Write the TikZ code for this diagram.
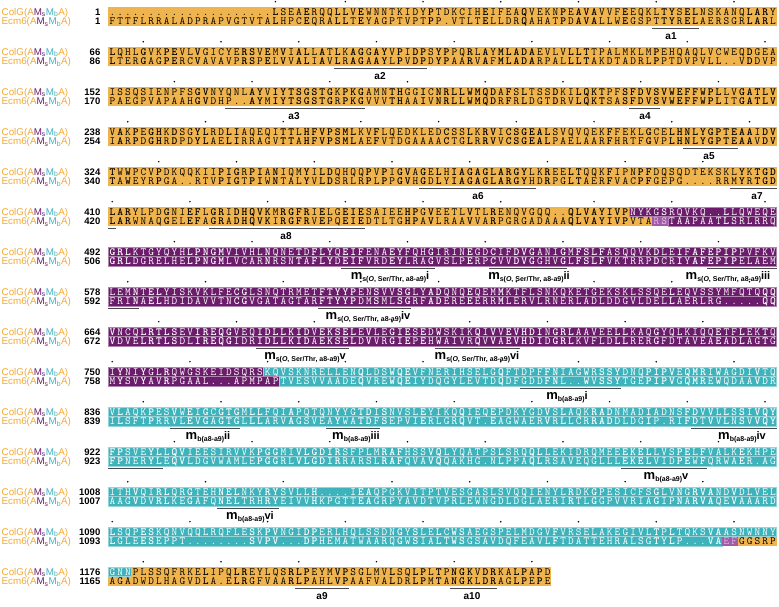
\documentclass[tikz,border=0pt]{standalone}
\usepackage{fontspec}
\newfontfamily\labfont{Liberation Sans}
\definecolor{cO}{HTML}{F0B44E}
\definecolor{cP}{HTML}{6B1D6B}
\definecolor{cC}{HTML}{3FB3BC}
\definecolor{cM}{HTML}{A05CA6}
\definecolor{lblO}{HTML}{F0A935}
\definecolor{tO}{HTML}{000000}
\definecolor{tP}{HTML}{FFFFFF}
\definecolor{tC}{HTML}{FFFFFF}
\definecolor{tM}{HTML}{E2B4E4}
\definecolor{ulc}{HTML}{4A4A4A}
\tikzset{
  bgO/.style={fill=cO},
  bgP/.style={fill=cP, draw=cP!55!white, line width=0.5pt},
  bgC/.style={fill=cC, draw=cC!55!white, line width=0.5pt},
  bgM/.style={fill=cM},
  seqline/.style={anchor=base west, inner sep=0pt, font=\ttfamily\fontsize{11}{11}\selectfont},
  namelab/.style={anchor=base west, inner sep=0pt, font=\labfont\fontsize{9.8}{9.8}\selectfont},
  numlab/.style={anchor=base east, inner sep=0pt, font=\labfont\bfseries\fontsize{9.5}{9.5}\selectfont},
  uline/.style={draw=ulc, line width=1.1pt},
  alab/.style={anchor=base, inner sep=0pt, font=\labfont\bfseries\fontsize{10}{10}\selectfont},
  mlab/.style={anchor=base, inner sep=0pt, font=\labfont\bfseries\fontsize{13}{13}\selectfont},
  resdot/.style={fill=black},
}
\newcommand\ColGname{\textcolor{lblO}{ColG(A}\textcolor{cP}{M\textsubscript{s}}\textcolor{cC}{M\textsubscript{b}}\textcolor{lblO}{A)}}
\newcommand\EcmName{\textcolor{lblO}{Ecm6(A}\textcolor{cP}{M\textsubscript{s}}\textcolor{cC}{M\textsubscript{b}}\textcolor{lblO}{A)}}
\newcommand\SqRect[5]{\path[bg#1] (#2,#3) rectangle (#4,#5);}
\newcommand\SqDot[2]{\fill[resdot] (#1,#2) circle[radius=0.85pt];}
\newcommand\SqChar[3]{\hbox to 7.772pt{\hss\color{t#1}\ifnum#2=1 \bfseries\fi#3\hss}}
\newcommand\SqLine[3]{\node[seqline] (#1) at (108.3,#2) {#3};}
\newcommand\SqNames[5]{%
  \node[namelab] (nameA#1) at (1.5,#2+3.5) {\ColGname};
  \node[namelab] (nameB#1) at (1.5,#3+3.5) {\EcmName};
  \node[numlab] (numA#1) at (100.5,#2+3.4) {#4};
  \node[numlab] (numB#1) at (100.5,#3+3.4) {#5};}
\newcommand\ULine[3]{\draw[uline] ({108.3+(#2-1)*7.772},{28.9+40*#1}) -- ({108.3+#3*7.772},{28.9+40*#1});}
\newcommand\ALab[4]{\node[alab] (#1) at (#3,{36+40*#2+3.6}) {#4};}
\newcommand\MsText[1]{m\raisebox{-2.8pt}{\fontsize{7}{7}\selectfont s(\textit{O}, Ser/Thr, a8-a9)}{\fontsize{11}{11}\selectfont #1}}
\newcommand\MbText[1]{m\raisebox{-2.8pt}{\fontsize{7}{7}\selectfont b(a8-a9)}{\fontsize{11}{11}\selectfont #1}}
\newcommand\MLab[4]{\node[mlab] (#1) at (#3,{36+40*#2+3}) {#4};}

\ExplSyntaxOn
\tl_new:N \l_sq_code_tl
\tl_new:N \l_sq_codeA_tl
\tl_new:N \l_sq_codeB_tl
\tl_new:N \l_sq_A_tl
\tl_new:N \l_sq_B_tl
\tl_new:N \l_sq_a_tl
\tl_new:N \l_sq_b_tl
\tl_new:N \l_sq_boxA_tl
\tl_new:N \l_sq_boxB_tl
\tl_const:Nn \c_sq_dot_tl {.}
\int_new:N \l_sq_pos_int
\int_new:N \l_sq_res_int
\int_new:N \l_sq_bold_int
\fp_new:N \l_sq_yA_fp
\fp_new:N \l_sq_yB_fp
\cs_new_protected:Npn \sq_runs:nn #1 #2
  {
    \tl_clear:N \l_sq_code_tl
    \int_zero:N \l_sq_pos_int
    \clist_map_inline:nn {#2} { \sq_run:nw {#1} ##1 \q_stop }
  }
\cs_new_protected:Npn \sq_run:nw #1 #2 / #3 \q_stop
  {
    \use:e
      {
        \exp_not:N \SqRect {#3}
          { \fp_eval:n { 108.3 + \l_sq_pos_int * 7.772 } }
          { \fp_eval:n { #1 - 4.85 } }
          { \fp_eval:n { 108.3 + ( \l_sq_pos_int + #2 ) * 7.772 } }
          { \fp_eval:n { #1 + 4.85 } }
      }
    \tl_put_right:Nx \l_sq_code_tl { \prg_replicate:nn {#2} {#3} }
    \int_add:Nn \l_sq_pos_int {#2}
  }
\NewDocumentCommand \SeqBlock { m m m m m m m }
  {
    \fp_set:Nn \l_sq_yA_fp { 11.7 + 40 * #1 }
    \fp_set:Nn \l_sq_yB_fp { 21.4 + 40 * #1 }
    \sq_runs:nn { \l_sq_yA_fp } {#4}
    \tl_set_eq:NN \l_sq_codeA_tl \l_sq_code_tl
    \sq_runs:nn { \l_sq_yB_fp } {#7}
    \tl_set_eq:NN \l_sq_codeB_tl \l_sq_code_tl
    \tl_set:Nn \l_sq_A_tl {#3}
    \tl_set:Nn \l_sq_B_tl {#6}
    \tl_clear:N \l_sq_boxA_tl
    \tl_clear:N \l_sq_boxB_tl
    \int_set:Nn \l_sq_res_int { #2 - 1 }
    \int_step_inline:nn { \tl_count:N \l_sq_A_tl }
      {
        \tl_set:Nx \l_sq_a_tl { \tl_item:Nn \l_sq_A_tl {##1} }
        \tl_set:Nx \l_sq_b_tl { \tl_item:Nn \l_sq_B_tl {##1} }
        \int_zero:N \l_sq_bold_int
        \tl_if_eq:NNT \l_sq_a_tl \l_sq_b_tl
          { \tl_if_eq:NNF \l_sq_a_tl \c_sq_dot_tl { \int_set:Nn \l_sq_bold_int {1} } }
        \tl_if_eq:NNF \l_sq_a_tl \c_sq_dot_tl
          {
            \int_incr:N \l_sq_res_int
            \int_compare:nNnT { \int_mod:nn { \l_sq_res_int } {10} } = {0}
              {
                \use:e { \exp_not:N \SqDot { \fp_eval:n { 108.3 + (##1 - 0.5) * 7.772 } } { \fp_eval:n { \l_sq_yA_fp - 10 } } }
              }
          }
        \tl_put_right:Nx \l_sq_boxA_tl
          { \exp_not:N \SqChar { \tl_item:Nn \l_sq_codeA_tl {##1} } { \int_use:N \l_sq_bold_int } { \l_sq_a_tl } }
        \tl_put_right:Nx \l_sq_boxB_tl
          { \exp_not:N \SqChar { \tl_item:Nn \l_sq_codeB_tl {##1} } { \int_use:N \l_sq_bold_int } { \l_sq_b_tl } }
      }
    \use:e { \exp_not:N \SqLine {colg#1} { \fp_eval:n { \l_sq_yA_fp + 3.35 } } { \exp_not:N \l_sq_boxA_tl } }
    \use:e { \exp_not:N \SqLine {ecm#1} { \fp_eval:n { \l_sq_yB_fp + 3.35 } } { \exp_not:N \l_sq_boxB_tl } }
    \use:e { \exp_not:N \SqNames {#1} { \fp_eval:n { \l_sq_yA_fp } } { \fp_eval:n { \l_sq_yB_fp } } {#2} {#5} }
  }
\ExplSyntaxOff

\begin{document}
\begin{tikzpicture}[x=1pt,y=-1pt]
\fill[white] (0,0) rectangle (779,607);
\useasboundingbox (0,0) rectangle (779,607);

\SeqBlock{0}{1}{.....................LSEAERQQLLVEWNNTKIDYPTDKCIHEIFEAQVEKNPEAVAVVFEEQKLTYSELNSKANQLARY}{86/O}
  {1}{FTTFLRRALADPRAPVGTVTALHPCEQRALLTEYAGPTVPTPP.VTLTELLDRQAHATPDAVALLWEGSPTTYRELAERSGRLARL}{86/O}
\SqDot{275.4}{1.7}
\SeqBlock{1}{66}{LQHLGVKPEVLVGICYERSVEMVIALLATLKAGGAYVPIDPSYPPQRLAYMLADAEVLVLLTTPALMKLMPEHQAQLVCWEQDGEA}{86/O}
  {86}{LTERGAGPERCVAVAVPRSPELVVALIAVLRAGAAYLPVDPDYPAARVAFMLADARPALLLTAKDTADRLPPTDVPVLL..VDDVP}{86/O}
\SeqBlock{2}{152}{ISSQSIENPFSGVNYQNLAYVIYTSGSTGKPKGAMNTHGGICNRLLWMQDAFSLTSSDKILQKTPFSFDVSVWEFFWPLLVGATLV}{86/O}
  {170}{PAEGPVAPAAHGVDHP..AYMIYTSGSTGRPKGVVVTHAAIVNRLLWMQDRFRLDGTDRVLQKTSASFDVSVWEFFWPLITGATLV}{86/O}
\SeqBlock{3}{238}{VAKPEGHKDSGYLRDLIAQEQITTLHFVPSMLKVFLQEDKLEDCSSLKRVICSGEALSVQVQEKFFEKLGCELHNLYGPTEAAIDV}{86/O}
  {254}{IARPDGHRDPDYLAELIRRAGVTTAHFVPSMLAEFVTDGAAAACTGLRRVVCSGEALPAELAARFHRTFGVPLHNLYGPTEAAVDV}{86/O}
\SeqBlock{4}{324}{TWWPCVPDKQQKIIPIGRPIANIQMYILDQHQQPVPIGVAGELHIAGAGLARGYLKREELTQQKFIPNPFDQSQDTEKSKLYKTGD}{86/O}
  {340}{TAWEYRPGA..RTVPIGTPIWNTALYVLDSRLRPLPPGVHGDLYIAGAGLARGYHDRPGLTAERFVACPFGEPG....RRMYRTGD}{86/O}
\SeqBlock{5}{410}{LARYLPDGNIEFLGRIDHQVKMRGFRIELGEIESAIEEHPGVEETLVTLRENQVGQQ..QLVAYIVPNYKGSRQVKQ..LLQWEQE}{67/O,19/P}
  {420}{LARWNAQGELEFAGRADHQVKIRGFRVEPQEIEDTLTGHPAVLRAAVVARPGRGADAAAQLVAYIVPVTARSTAAPAATLSRLRRQ}{70/O,2/M,14/P}
\SeqBlock{6}{492}{GRLKTGYQYHLPNGMVIVHLNQNETDFLYQEIFENAEYFQHGIRINEGDCIFDVGANIGMFSLFASQQVKDLEIFAFEPIPPVFKV}{86/P}
  {506}{GRLDGRELHELPNGMLVCARNRSNTAFLYDEIFVRDEYLRAGVSLPERPCVVDVGGHVGLFSLFVKTRRPDCRIYAFEPIPELAEM}{86/P}
\SeqBlock{7}{578}{LEMNTELYISKVKLFECGLSNQTRMETFTYYPENSVVSGLYADQNQEQEMMKTFLSNKQKETGEKSKLSSQELEQVSSYMFQTQQQ}{86/P}
  {592}{FRINAELHDIDAVVTNCGVGATAGTARFTYYPDMSMLSGRFADEREEERRMLERVLRNERLADLDDGVLDELLAERLRG.....QQ}{86/P}
\SeqBlock{8}{664}{VNCQLRTLSEVIREQGVEQIDLLKIDVEKSELEVLEGIESEDWSKIKQIVVEVHDINGRLAAVEELLKAQGYQLKIQQETFLEKTQ}{86/P}
  {672}{VDVELRTLSDLIREQGIDRIDLLKIDAEKSELDVVRGIEPEHWAIVRQVVAEVHDIDGRLKVFLDLLRERGFDTAVEAEADLAGTG}{86/P}
\SeqBlock{9}{750}{IYNIYGLRQWGSKEIDSQRSKQVSKNRELLENQLDSWQEVFNERIHSELGQFTDPFFNIAGWRSSYDNQPIPVEQMRIWAGDIVTQ}{20/P,66/C}
  {758}{MYSVYAVRPGAAL...APMPAPTVESVVAADEQVREWQEIYDQGYLEVTDQDFGDDFNL..WVSSYTGEPIPVGQMREWQDAAVDR}{22/P,64/C}
\SeqBlock{10}{836}{VLAQKPESVWEIGCGTGMLLFQIAPQTQNYYGTDISNVSLEYIKQQIEQEPDKYGDVSLAQKRADNMADIADNSFDVVLLSSIVQY}{86/C}
  {839}{ILSFTPRRVLEVGAGTGLLLARVAGSVEAYWATDFSEPVIERLGRQVT.EAGWAERVRLLCRRADDLDGIP.RIFDTVVLNSVVQY}{86/C}
\SeqBlock{11}{922}{FPSVEYLLQVIEESIRVVKPGGMIVLGDIRSFPLMRAFHSSVQLYQATPSLSRQQLLEKIDRQMEEEKELLVSPELFVALKEKHPE}{86/C}
  {923}{FPNERYLEQVLDGVWAMLEPGGRLVLGDIRRARSLRAFQVAVQQAKHG.NLPPAQLRSAVEQGLLLEKELVIDPEWFQRWAER.AG}{86/C}
\SeqBlock{12}{1008}{ITHVQIRLQRGTEHNELNKYRYSVLLH....IEAQPGKVITPTVESGASLSVQQIENYLRDKGPESICFSGLVNGRVANDVDLVEL}{86/C}
  {1007}{AAGVDVRLKEGAFQNELTRHRYEIVVHKPGTTEAGRPYAVDTVPRLEWNGDLDGLAERIRTLGGPVVRIAGIPNARVAQEVAAARD}{86/C}
\SeqBlock{13}{1090}{LSQPESKQNVQQLRQFLESKPVNGIDPERLHQLSSDNGYSLELCWSAEGSPELMDGVFVRSELAKEGIVLTPLTQKSVAASNWNNY}{86/C}
  {1093}{LGLEESEPPT........SVPV...DPHEMATWAARQGWSIALTWSGSAVDQFEAVLFTDATTEHRALSGTYLP...VAEFGGSRP}{79/C,2/M,5/O}
\SeqBlock{14}{1176}{GNNPLSSQFRKELIPQLREYLQSRLPEYMVPSGLMVLSQLPLTPNGKVDRKALPAPD}{3/C,54/O}
  {1165}{AGADWDLHAGVDLA.ELRGFVAARLPAHLVPAAFVALDRLPMTANGKLDRAGLPEPE}{57/O}

% motif underlines
\ULine{0}{71}{76}
\ULine{1}{30}{41}
\ULine{2}{16}{33} \ULine{2}{68}{71}
\ULine{3}{75}{81}
\ULine{4}{41}{55} \ULine{4}{81}{86}
\ULine{5}{1}{1} \ULine{5}{14}{33}
\ULine{6}{31}{42} \ULine{6}{50}{59} \ULine{6}{78}{86}
\ULine{7}{1}{4} \ULine{7}{28}{39}
\ULine{8}{20}{31} \ULine{8}{43}{53}
\ULine{9}{54}{66}
\ULine{10}{9}{17} \ULine{10}{29}{35} \ULine{10}{76}{86}
\ULine{11}{1}{7} \ULine{11}{67}{77}
\ULine{12}{15}{22}
\ULine{14}{25}{31} \ULine{14}{45}{50}

% motif labels
\ALab{a1}{0}{671}{a1}
\ALab{a2}{1}{380}{a2}
\ALab{a3}{2}{294}{a3}
\ALab{a4}{2}{645}{a4}
\ALab{a5}{3}{709}{a5}
\ALab{a6}{4}{478}{a6}
\ALab{a7}{4}{757}{a7}
\ALab{a8}{5}{286}{a8}
\MLab{msi}{6}{390}{\MsText{i}}
\MLab{msii}{6}{529}{\MsText{ii}}
\MLab{msiii}{6}{728}{\MsText{iii}}
\MLab{msiv}{7}{368}{\MsText{iv}}
\MLab{msv}{8}{305}{\MsText{v}}
\MLab{msvi}{8}{477}{\MsText{vi}}
\MLab{mbi}{9}{567}{\MbText{i}}
\MLab{mbii}{10}{208}{\MbText{ii}}
\MLab{mbiii}{10}{356}{\MbText{iii}}
\MLab{mbiv}{10}{742}{\MbText{iv}}
\MLab{mbv}{11}{666}{\MbText{v}}
\MLab{mbvi}{12}{250}{\MbText{vi}}
\ALab{a9}{14}{322}{a9}
\ALab{a10}{14}{472}{a10}
\end{tikzpicture}
\end{document}
